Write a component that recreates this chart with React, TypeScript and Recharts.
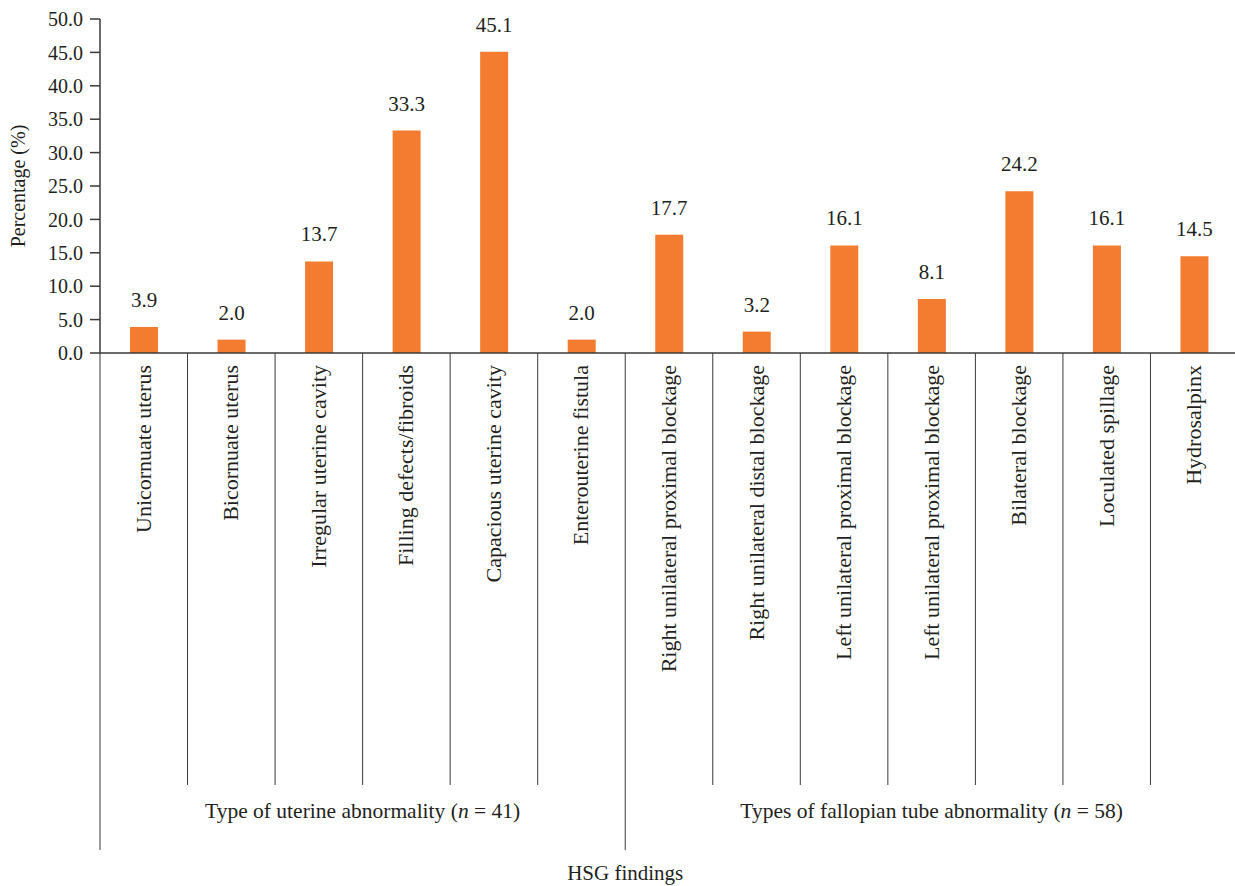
import React from "react";
import { Bar, BarChart, LabelList, XAxis, YAxis } from "recharts";

const categories = [
  "Unicornuate uterus",
  "Bicornuate uterus",
  "Irregular uterine cavity",
  "Filling defects/fibroids",
  "Capacious uterine cavity",
  "Enterouterine fistula",
  "Right unilateral proximal blockage",
  "Right unilateral distal blockage",
  "Left unilateral proximal blockage",
  "Left unilateral proximal blockage ",
  "Bilateral blockage",
  "Loculated spillage",
  "Hydrosalpinx",
];
const percentages = [3.9, 2.0, 13.7, 33.3, 45.1, 2.0, 17.7, 3.2, 16.1, 8.1, 24.2, 16.1, 14.5];
const yTicks = [0, 5, 10, 15, 20, 25, 30, 35, 40, 45, 50];
const groups = [
  { start: 0, size: 6, name: "Type of uterine abnormality", n: 41 },
  { start: 6, size: 7, name: "Types of fallopian tube abnormality", n: 58 },
];

const data = categories.map((name, i) => ({ name, value: percentages[i] }));

const WIDTH = 1240;
const HEIGHT = 886;
const Y_AXIS_W = 100;
const RIGHT = 2;
const TOP = 19;
const X_AXIS_H = 533;
const BAND = (WIDTH - Y_AXIS_W - RIGHT) / categories.length;

const FONT = "'Liberation Serif', 'DejaVu Serif', serif";
const TEXT = "#231f20";
const LINE = "#3a3a3a";

function CategoryTick(props: any) {
  const { x, y, payload } = props;
  const idx = payload.index;
  const left = x - BAND / 2;
  const group = groups.find((g) => g.start === idx);
  const long = !!group;
  return (
    <g>
      <line x1={left} y1={y} x2={left} y2={long ? y + 497 : y + 432} stroke={LINE} strokeWidth={1} />
      <text
        x={x + 7}
        y={y + 12}
        transform={`rotate(-90, ${x + 7}, ${y + 12})`}
        textAnchor="end"
        fontFamily={FONT}
        fontSize={22}
        fill={TEXT}
      >
        {payload.value}
      </text>
      {group && (
        <text
          x={left + (group.size / 2) * BAND}
          y={y + 465}
          textAnchor="middle"
          fontFamily={FONT}
          fontSize={21.5}
          fill={TEXT}
        >
          {group.name} (<tspan fontStyle="italic">n</tspan> = {group.n})
        </text>
      )}
      {idx === 6 && (
        <text x={left} y={y + 527} textAnchor="middle" fontFamily={FONT} fontSize={21} fill={TEXT}>
          HSG findings
        </text>
      )}
    </g>
  );
}

export default function App() {
  return (
    <div style={{ position: "absolute", left: 0, top: 0, width: WIDTH, height: HEIGHT, background: "#fff" }}>
      <BarChart
        width={WIDTH}
        height={HEIGHT}
        data={data}
        margin={{ top: TOP, right: RIGHT, bottom: 0, left: 0 }}
        barSize={28}
      >
        <XAxis
          dataKey="name"
          interval={0}
          height={X_AXIS_H}
          tickLine={false}
          tickSize={0}
          tickMargin={0}
          axisLine={{ stroke: LINE, strokeWidth: 1.5 }}
          tick={<CategoryTick />}
        />
        <YAxis
          width={Y_AXIS_W}
          domain={[0, 50]}
          ticks={yTicks}
          interval={0}
          tickFormatter={(v: number) => v.toFixed(1)}
          tickSize={10}
          tickMargin={7}
          axisLine={{ stroke: LINE, strokeWidth: 1.5 }}
          tickLine={{ stroke: LINE, strokeWidth: 1.5 }}
          tick={{ fill: TEXT, fontFamily: FONT, fontSize: 20 }}
          label={{
            value: "Percentage (%)",
            angle: -90,
            position: "insideLeft",
            offset: 18,
            style: { fill: TEXT, fontFamily: FONT, fontSize: 20, textAnchor: "middle" },
          }}
        />
        <Bar dataKey="value" fill="#f47c30" isAnimationActive={false}>
          <LabelList
            dataKey="value"
            position="top"
            offset={20}
            formatter={(v: any) => Number(v).toFixed(1)}
            style={{ fill: TEXT, fontFamily: FONT, fontSize: 21 }}
          />
        </Bar>
      </BarChart>
    </div>
  );
}
